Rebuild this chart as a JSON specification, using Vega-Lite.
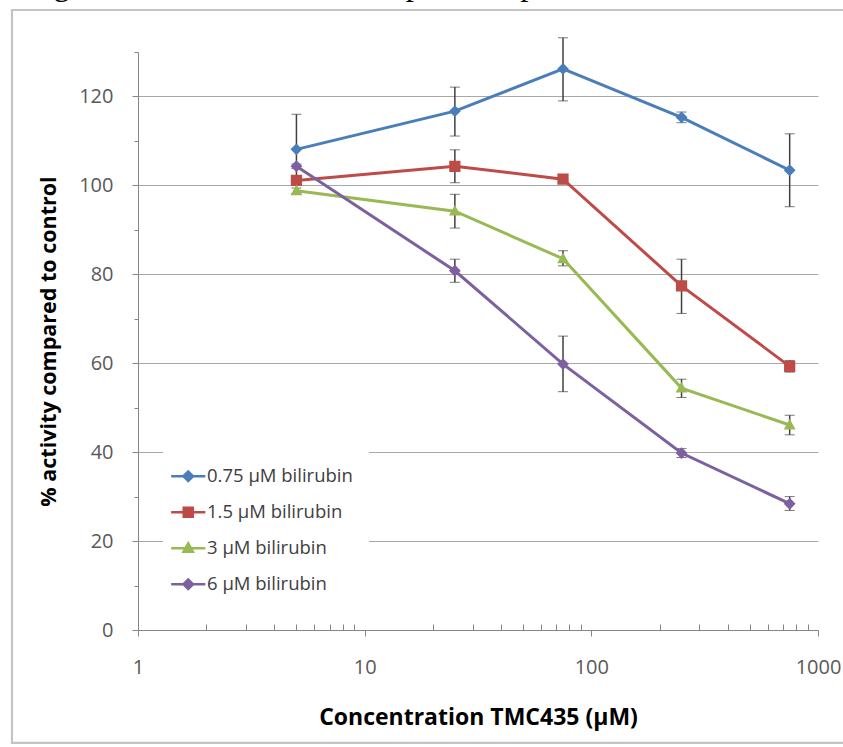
{
  "$schema": "https://vega.github.io/schema/vega-lite/v6.json",
  "width": 680,
  "height": 578,
  "autosize": {"type": "none"},
  "padding": {"left": 138, "top": 52, "right": 25, "bottom": 117},
  "background": "white",
  "config": {"view": {"stroke": null}, "font": "Open Sans"},
  "title": {
    "text": "single combination. The data points represent the mean of three",
    "font": "Liberation Serif",
    "fontSize": 33,
    "fontWeight": "normal",
    "color": "black",
    "anchor": "start",
    "frame": "group",
    "baseline": "alphabetic",
    "offset": 0,
    "dx": -123,
    "dy": 19
  },
  "datasets": {
    "activity": [
      {"series": "0.75 µM bilirubin", "conc": 5, "mean": 108.1, "lo": 100.2, "hi": 116.0},
      {"series": "0.75 µM bilirubin", "conc": 25, "mean": 116.7, "lo": 111.1, "hi": 122.1},
      {"series": "0.75 µM bilirubin", "conc": 75, "mean": 126.2, "lo": 119.0, "hi": 133.2},
      {"series": "0.75 µM bilirubin", "conc": 250, "mean": 115.3, "lo": 114.1, "hi": 116.5},
      {"series": "0.75 µM bilirubin", "conc": 750, "mean": 103.4, "lo": 95.2, "hi": 111.6},
      {"series": "1.5 µM bilirubin", "conc": 5, "mean": 101.1, "lo": 100.3, "hi": 101.9},
      {"series": "1.5 µM bilirubin", "conc": 25, "mean": 104.3, "lo": 100.6, "hi": 108.0},
      {"series": "1.5 µM bilirubin", "conc": 75, "mean": 101.4, "lo": 100.6, "hi": 102.2},
      {"series": "1.5 µM bilirubin", "conc": 250, "mean": 77.4, "lo": 71.2, "hi": 83.4},
      {"series": "1.5 µM bilirubin", "conc": 750, "mean": 59.3, "lo": 58.0, "hi": 60.6},
      {"series": "3 µM bilirubin", "conc": 5, "mean": 98.8, "lo": 98.2, "hi": 99.4},
      {"series": "3 µM bilirubin", "conc": 25, "mean": 94.2, "lo": 90.4, "hi": 98.0},
      {"series": "3 µM bilirubin", "conc": 75, "mean": 83.5, "lo": 81.9, "hi": 85.3},
      {"series": "3 µM bilirubin", "conc": 250, "mean": 54.4, "lo": 52.3, "hi": 56.4},
      {"series": "3 µM bilirubin", "conc": 750, "mean": 46.1, "lo": 43.9, "hi": 48.3},
      {"series": "6 µM bilirubin", "conc": 5, "mean": 104.3, "lo": 103.8, "hi": 104.8},
      {"series": "6 µM bilirubin", "conc": 25, "mean": 80.8, "lo": 78.2, "hi": 83.4},
      {"series": "6 µM bilirubin", "conc": 75, "mean": 59.8, "lo": 53.6, "hi": 66.1},
      {"series": "6 µM bilirubin", "conc": 250, "mean": 39.8, "lo": 38.8, "hi": 40.8},
      {"series": "6 µM bilirubin", "conc": 750, "mean": 28.4, "lo": 26.9, "hi": 30.0}
    ]
  },
  "layer": [
    {
      "description": "light grey chart-area frame",
      "data": {"values": [{}]},
      "mark": {"type": "rect", "fill": "transparent", "stroke": "#c4c4c4", "strokeWidth": 2.2},
      "encoding": {
        "x": {"datum": 0.278, "type": "quantitative"},
        "x2": {"datum": 5000},
        "y": {"datum": 139.45, "type": "quantitative"},
        "y2": {"datum": -25.4}
      }
    },
    {
      "data": {"name": "activity"},
      "mark": {
        "type": "errorbar",
        "ticks": {"size": 10, "color": "#404040", "strokeWidth": 1.5},
        "rule": {"color": "#404040", "strokeWidth": 1.5}
      },
      "encoding": {
        "x": {"field": "conc", "type": "quantitative", "title": "Concentration TMC435 (µM)"},
        "y": {"field": "lo", "type": "quantitative", "title": "% activity compared to control"},
        "y2": {"field": "hi"},
        "detail": {"field": "series"}
      }
    },
    {
      "data": {"name": "activity"},
      "mark": {"type": "line", "strokeWidth": 3},
      "encoding": {
        "x": {
          "field": "conc",
          "type": "quantitative",
          "title": "Concentration TMC435 (µM)",
          "scale": {"type": "log", "domain": [1, 1000], "nice": false},
          "axis": {
            "values": [1, 2, 3, 4, 5, 6, 7, 8, 9, 10, 20, 30, 40, 50, 60, 70, 80, 90, 100, 200, 300, 400, 500, 600, 700, 800, 900, 1000],
            "labelExpr": "indexof([1, 10, 100, 1000], datum.value) >= 0 ? format(datum.value, 'd') : ''",
            "labelOverlap": false,
            "labelFlush": false,
            "labelFont": "Open Sans",
            "labelFontSize": 20,
            "labelColor": "#595959",
            "labelPadding": 21,
            "tickSize": {"condition": {"test": "indexof([1, 10, 100, 1000], datum.value) < 0", "value": -6}, "value": 6},
            "tickColor": "#868686",
            "domainColor": "#868686",
            "domainWidth": 1,
            "grid": false,
            "titleFont": "Open Sans",
            "titleFontSize": 23,
            "titleFontWeight": "bold",
            "titleColor": "black",
            "titlePadding": 29
          }
        },
        "y": {
          "field": "mean",
          "type": "quantitative",
          "title": "% activity compared to control",
          "scale": {"domain": [0, 130], "nice": false},
          "axis": {
            "values": [0, 10, 20, 30, 40, 50, 60, 70, 80, 90, 100, 110, 120, 130],
            "labelExpr": "datum.value % 20 === 0 && datum.value <= 120 ? datum.label : ''",
            "labelOverlap": false,
            "labelFont": "Open Sans",
            "labelFontSize": 20,
            "labelColor": "#595959",
            "labelPadding": 19,
            "tickSize": {"condition": {"test": "datum.value % 20 !== 0", "value": 4}, "value": 6},
            "tickColor": "#868686",
            "domainColor": "#868686",
            "domainWidth": 1,
            "grid": true,
            "gridColor": "#a8a8a8",
            "gridWidth": 1,
            "gridOpacity": {"condition": {"test": "datum.value % 20 !== 0 || datum.value === 0", "value": 0}, "value": 1},
            "titleFont": "Open Sans",
            "titleFontSize": 21.5,
            "titleFontWeight": "bold",
            "titleColor": "black",
            "titlePadding": 18
          }
        },
        "color": {
          "field": "series",
          "type": "nominal",
          "scale": {
            "domain": ["0.75 µM bilirubin", "1.5 µM bilirubin", "3 µM bilirubin", "6 µM bilirubin"],
            "range": ["#4a7ebb", "#be4b48", "#98b954", "#7d60a0"]
          },
          "legend": {
            "title": null,
            "orient": "none",
            "legendX": 25,
            "legendY": 399,
            "padding": 16,
            "fillColor": "white",
            "symbolSize": 90,
            "symbolStrokeWidth": 2.5,
            "labelOffset": 9.5,
            "rowPadding": 16,
            "labelFont": "Open Sans",
            "labelFontSize": 18.5,
            "labelColor": "#404040",
            "labelLimit": 0
          }
        }
      }
    },
    {
      "data": {"name": "activity"},
      "mark": {"type": "point", "filled": true, "opacity": 1, "size": 140},
      "encoding": {
        "x": {"field": "conc", "type": "quantitative", "title": "Concentration TMC435 (µM)"},
        "y": {"field": "mean", "type": "quantitative", "title": "% activity compared to control"},
        "color": {"field": "series", "type": "nominal"},
        "shape": {
          "field": "series",
          "type": "nominal",
          "scale": {
            "domain": ["0.75 µM bilirubin", "1.5 µM bilirubin", "3 µM bilirubin", "6 µM bilirubin"],
            "range": [
              "M-3.6,0H3.6M-1,0L0,-1L1,0L0,1Z",
              "M-3.6,0H3.6M-0.95,-0.95H0.95V0.95H-0.95Z",
              "M-3.6,0H3.6M0,-1.05L1,0.75H-1Z",
              "M-3.6,0H3.6M-1,0L0,-1L1,0L0,1Z"
            ]
          }
        }
      }
    }
  ]
}
